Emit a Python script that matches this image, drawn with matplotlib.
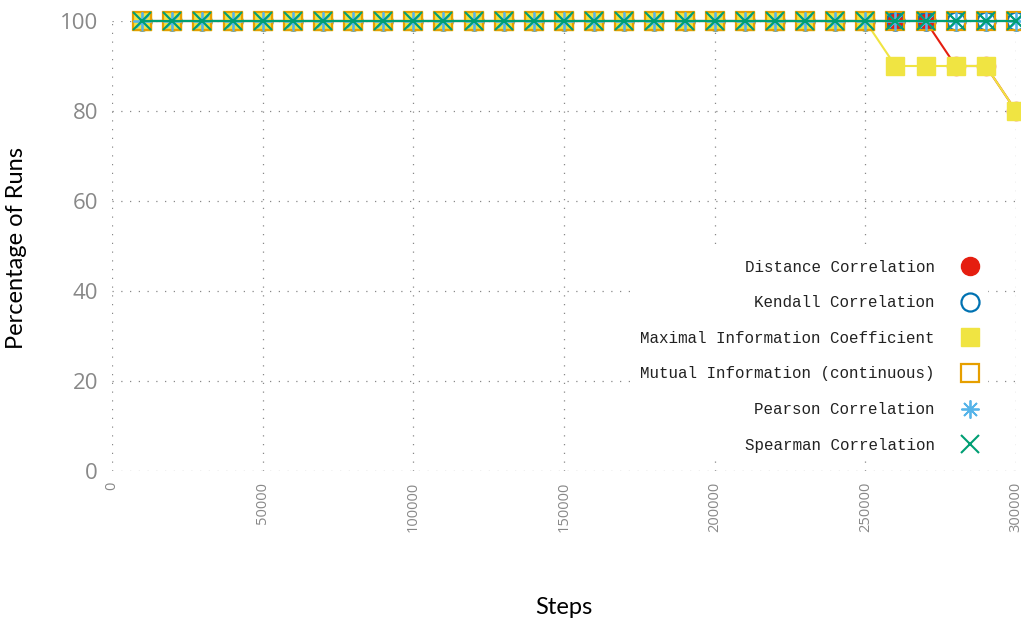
import matplotlib
matplotlib.use("Agg")
import matplotlib.pyplot as plt
from matplotlib.lines import Line2D

# Training steps at which the runs were evaluated
steps = [10000 * i for i in range(1, 31)]

# Percentage of runs per measure
distance_corr = [100] * 27 + [90, 90, 80]
kendall_corr = [100] * 30
mic = [100] * 25 + [90, 90, 90, 90, 80]
mutual_info = [100] * 30
pearson_corr = [100] * 30
spearman_corr = [100] * 30

series_names = [
    "Distance Correlation",
    "Kendall Correlation",
    "Maximal Information Coefficient",
    "Mutual Information (continuous)",
    "Pearson Correlation",
    "Spearman Correlation",
]
series_values = [distance_corr, kendall_corr, mic, mutual_info, pearson_corr, spearman_corr]

x_ticks = [0, 50000, 100000, 150000, 200000, 250000, 300000]
y_ticks = [0, 20, 40, 60, 80, 100]

colors = ["#e51e10", "#0072b2", "#f0e442", "#e69f00", "#56b4e9", "#009e73"]
asterisk = (8, 2, 0)
styles = [
    dict(marker="o", mfc=colors[0], mec=colors[0], mew=1.0),
    dict(marker="o", mfc="none", mec=colors[1], mew=1.6),
    dict(marker="s", mfc=colors[2], mec=colors[2], mew=1.0),
    dict(marker="s", mfc="none", mec=colors[3], mew=1.6),
    dict(marker=asterisk, mfc=colors[4], mec=colors[4], mew=1.3),
    dict(marker="x", mfc=colors[5], mec=colors[5], mew=1.5),
]

W, H = 1021, 622
fig = plt.figure(figsize=(W / 100, H / 100), dpi=100)
left, right, top, bottom = 112, 1016, 21, 471
ax = fig.add_axes([left / W, 1 - bottom / H, (right - left) / W, (bottom - top) / H])

for name, vals, col, st in zip(series_names, series_values, colors, styles):
    ax.plot(steps, vals, color=col, lw=1.5, ms=13, clip_on=False, label=name, **st)

ax.set_xlim(0, 300000)
ax.set_ylim(0, 100)
ax.set_xticks(x_ticks)
ax.set_yticks(y_ticks)
ax.set_xticklabels([str(v) for v in x_ticks], rotation=90, fontsize=10.5,
                   family="Open Sans", color="#888888")
ax.set_yticklabels([str(v) for v in y_ticks], fontsize=16,
                   family="Open Sans", color="#888888")
ax.tick_params(length=0, pad=8)
ax.tick_params(axis="y", pad=10)
for s in ax.spines.values():
    s.set_visible(False)
ax.grid(True, linestyle=(0, (1, 6)), color="#888888", linewidth=0.9)
ax.set_axisbelow(True)

ax.set_xlabel("Steps", fontsize=17, family="Lato", color="black")
ax.set_ylabel("Percentage of Runs", fontsize=17, family="Lato", color="black")
ax.xaxis.set_label_coords(0.5, -0.281)
ax.yaxis.set_label_coords(-0.094, 0.495)

handles = [Line2D([], [], linestyle="none", ms=13, **st) for st in styles]
leg = ax.legend(handles, series_names, loc="upper right",
                bbox_to_anchor=(988 / W, 1 - 251 / H), bbox_transform=fig.transFigure,
                markerfirst=False, frameon=True, facecolor="white", edgecolor="none",
                framealpha=1.0, fancybox=False,
                prop=dict(family="Liberation Mono", size=11.4),
                labelspacing=1.3, handlelength=1.2, handletextpad=1.6,
                borderpad=0.55, borderaxespad=0)
for t in leg.get_texts():
    t.set_ha("right")
    t.set_color("#222222")
leg._legend_box.align = "right"

fig.savefig("out.png", dpi=100)
